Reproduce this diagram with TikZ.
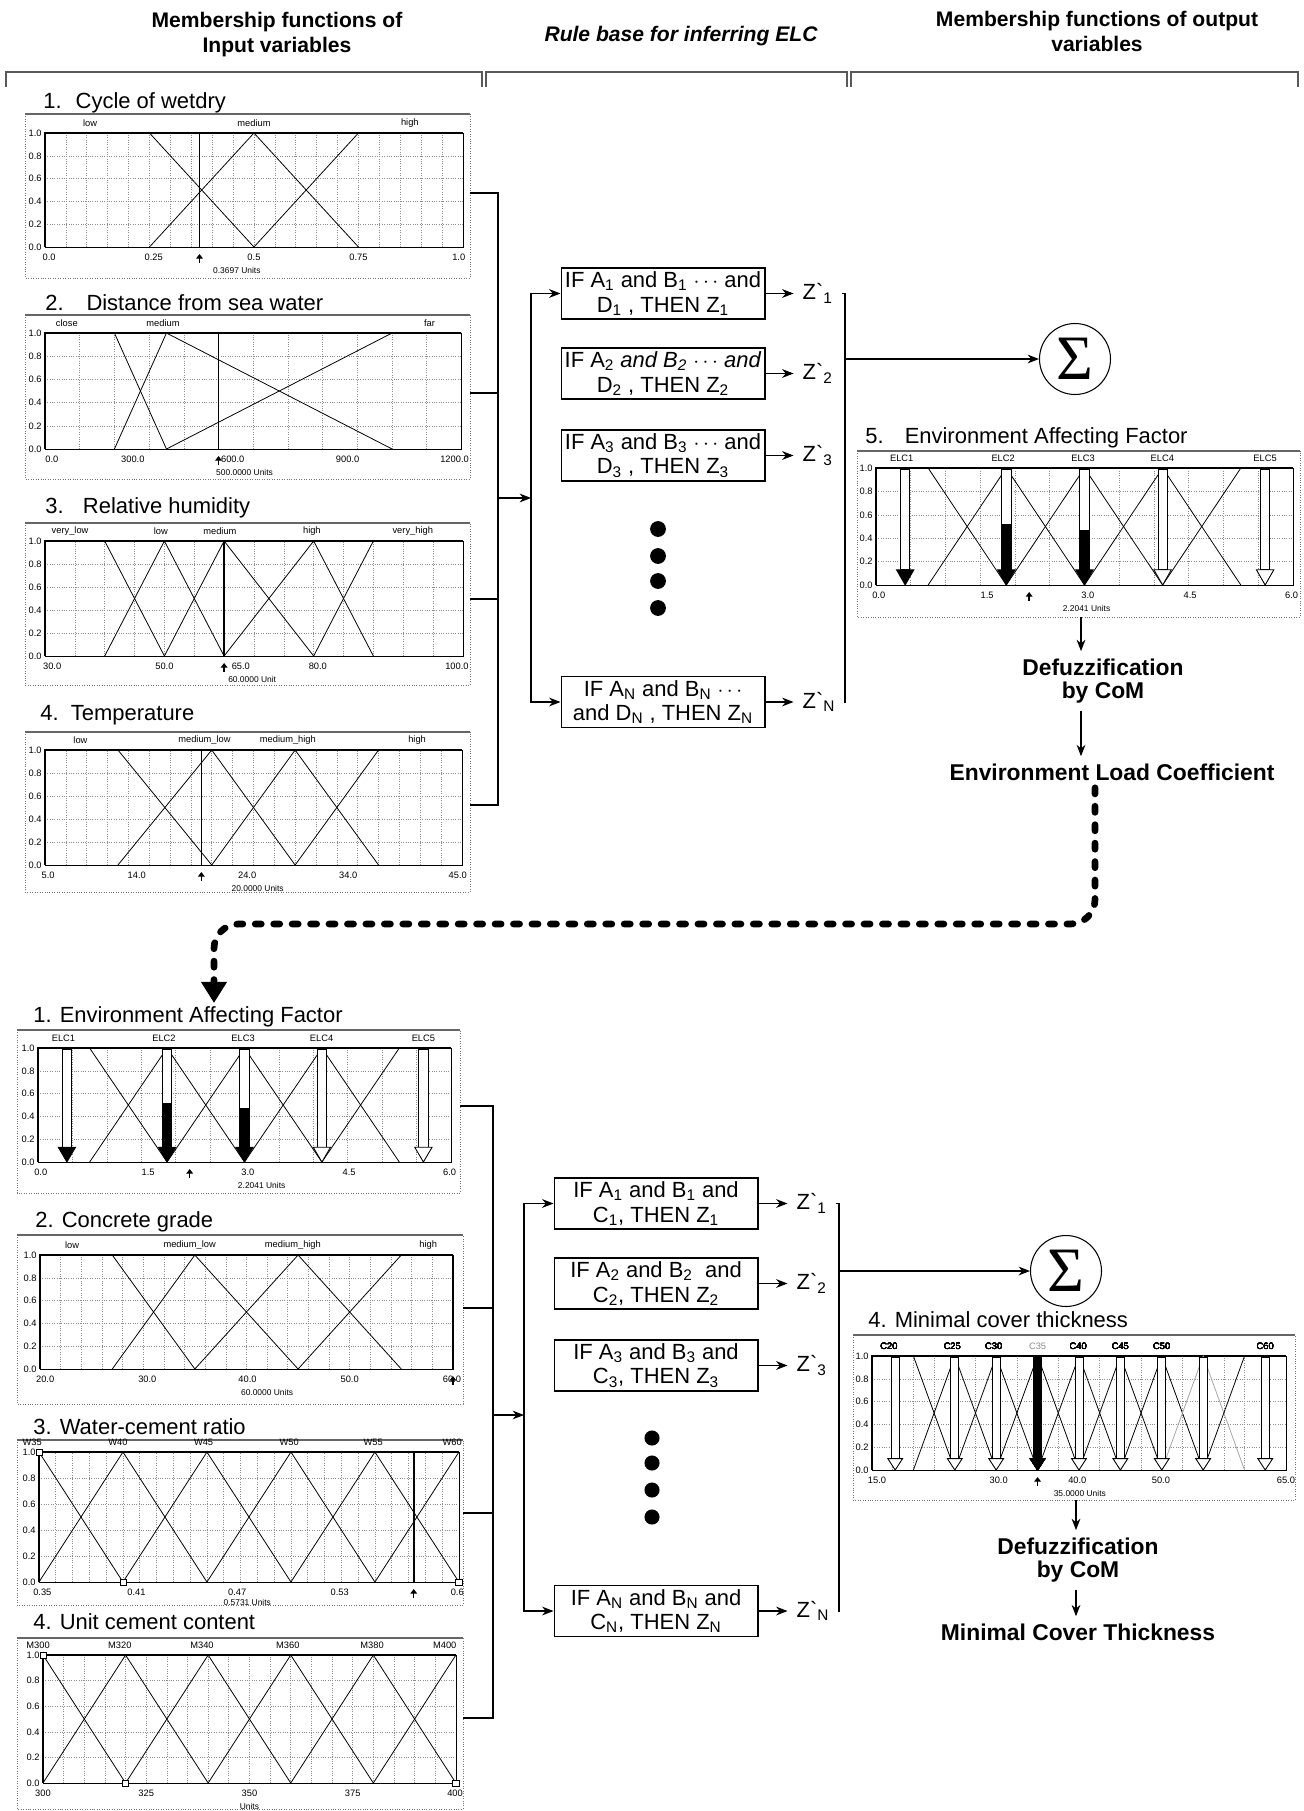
\documentclass[tikz,border=0pt]{standalone}
\usepackage{fontspec}
\setmainfont{Liberation Sans}
\newfontfamily\sigmafont{Liberation Serif}
\usetikzlibrary{arrows.meta,positioning}

\newcommand{\ix}[1]{\textsubscript{#1}}
\newcommand{\fhead}{\fontsize{12}{14.2}\selectfont\bfseries}
\newcommand{\ftitle}{\fontsize{12.5}{14}\selectfont}
\newcommand{\frule}{\fontsize{12.5}{14}\selectfont}
\newcommand{\fres}{\fontsize{13}{13.5}\selectfont\bfseries}
\newcommand{\ftick}{\fontsize{5.3}{5.5}\selectfont}
\newcommand{\funit}{\fontsize{4.8}{5}\selectfont}

% window of one membership chart
\newcommand{\chartframe}[4]{%
  \draw[framedot] (#1,#2) rectangle (#3,#4);
  \draw[frametop] (#1,#2) -- (#3,#2);}

% plot area in data units: xmin, xmax, grid divisions
\newcommand{\plotarea}[3]{%
  \foreach \i in {1,...,#3}
    \draw[gridline] ({#1+(#2-#1)*\i/#3},0) -- ({#1+(#2-#1)*\i/#3},1);
  \foreach \gy in {0.2,0.4,0.6,0.8}
    \draw[gridline] (#1,\gy) -- (#2,\gy);
  \draw[mf] (#1,0) rectangle (#2,1);
  \draw[axisline] (#1,0) -- (#1,1) -- (#2,1);
  \foreach \gy in {0.0,0.2,0.4,0.6,0.8,1.0}
    \node[ytick] at (#1,\gy) {\gy};}

% output arrow: position, fill level, head colour, half width (px), head height
\newcommand{\fatarrow}[5]{%
  \begin{scope}[shift={(#1,0)}, x=0.02cm]
    \draw[line width=0.5pt, fill=white] (-#4,#5) rectangle (#4,0.99);
    \fill (-#4,#5) rectangle (#4,#2);
    \draw[line width=0.5pt, fill=#3] ({-1.85*#4},#5) -- ({1.85*#4},#5) -- (0,0) -- cycle;
  \end{scope}}

% environment affecting factor functions (data units 0..6)
\newcommand{\elcfunctions}{%
  \draw[mf] (0,1) -- (0.75,1) -- (1.875,0);
  \foreach \p in {1.875,3,4.125}
    \draw[mf] (\p-1.125,0) -- (\p,1) -- (\p+1.125,0);
  \draw[mf] (4.125,0) -- (5.25,1) -- (6,1);
  \fatarrow{0.42}{0.13}{black}{4.7}{0.13}
  \fatarrow{1.875}{0.52}{black}{4.7}{0.13}
  \fatarrow{3}{0.47}{black}{4.7}{0.13}
  \fatarrow{4.125}{0.13}{white}{4.7}{0.13}
  \fatarrow{5.6}{0.13}{white}{4.7}{0.13}
  \foreach \lx/\lt in {0.37/ELC1,1.83/ELC2,2.98/ELC3,4.12/ELC4,5.6/ELC5}
    \node[mflabel] at (\lx,1) {\lt};
  \foreach \lx/\lt in {0.04/0.0,1.6/1.5,3.05/3.0,4.52/4.5,5.98/6.0}
    \node[xtick] at (\lx,0) {\lt};
  \draw[valmark] (2.2041,0) ++(0pt,-9pt) -- ++(0pt,5pt);}

\begin{document}
\begin{tikzpicture}[x=0.02cm, y=-0.02cm,
    headtext/.style={font=\fhead, align=center, inner sep=0pt},
    bracket/.style={line width=0.8pt, black!65},
    charttitle/.style={font=\ftitle, anchor=west, inner sep=0pt},
    framedot/.style={densely dotted, black!55, line width=0.4pt},
    frametop/.style={black!60, line width=0.9pt},
    gridline/.style={densely dotted, black!45, line width=0.35pt},
    mf/.style={line width=0.45pt},
    axisline/.style={line width=1.1pt},
    valline/.style={line width=0.9pt},
    valmark/.style={line width=0.8pt, -{Triangle[length=2.6pt,width=3.8pt]}},
    ytick/.style={font=\ftick, anchor=east, inner sep=0.5pt, xshift=-1.2pt},
    xtick/.style={font=\ftick, inner sep=0.5pt, yshift=-5.7pt},
    unitlabel/.style={font=\funit, inner sep=0.5pt, yshift=-13.6pt},
    mflabel/.style={font=\ftick, inner sep=0.5pt, yshift=5.5pt},
    mfhandle/.style={draw, fill=white, inner sep=0pt, minimum size=3.5pt, line width=0.4pt},
    conn/.style={line width=0.6pt},
    arrow/.style={line width=0.6pt, -{Stealth[length=6.5pt,width=5pt]}},
    rulebox/.style={draw, line width=0.6pt, font=\frule, align=center, minimum width=4.08cm, minimum height=1.02cm, inner sep=1pt},
    zlabel/.style={font=\frule, anchor=west, inner xsep=5pt, inner ysep=1pt},
    sumnode/.style={draw, circle, line width=0.6pt, minimum size=1.42cm, inner sep=0pt, font=\sigmafont\fontsize{36}{36}\selectfont},
    resulttext/.style={font=\fres, align=center, inner sep=4pt},
    dashconn/.style={line width=3.8pt, line cap=round, dash pattern=on 3.5pt off 7pt, rounded corners=14pt, -{Triangle[width=14pt,length=12pt]}}
]
\useasboundingbox (0,0) rectangle (1304,1811);

% column headings
\node[headtext] (hin) at (277,35) {Membership functions of\\Input variables};
\node[headtext, font=\fhead\itshape] (hrule) at (681,36) {Rule base for inferring ELC};
\node[headtext] (hout) at (1097,31) {Membership functions of output\\variables};
\draw[bracket] (6,87) |- (482,72) -- (482,87);
\draw[bracket] (486,87) |- (847,72) -- (847,87);
\draw[bracket] (851,87) |- (1298,72) -- (1298,87);

% ---------------- input variables (ELC) ----------------
% 1. cycle of wet-dry
\node[charttitle] (t1) at (43,103) {1.\hspace{8pt}Cycle of wetdry};
\chartframe{25}{114}{470}{278}
\begin{scope}[shift={(45,247)}, x=8.36cm, y=2.28cm]
  \plotarea{0}{1}{20}
  \draw[mf] (0,1) -- (0.25,1) -- (0.5,0);
  \draw[mf] (0.25,0) -- (0.5,1) -- (0.75,0);
  \draw[mf] (0.5,0) -- (0.75,1) -- (1,1);
  \draw[valline] (0.3697,0) -- (0.3697,1);
  \draw[valmark] (0.3697,0) ++(0pt,-9pt) -- ++(0pt,5pt);
  \foreach \lx/\lt in {0.108/low,0.5/medium,0.873/high}
    \node[mflabel] at (\lx,1) {\lt};
  \foreach \lx/\lt in {0.01/0.0,0.26/0.25,0.5/0.5,0.75/0.75,0.99/1.0}
    \node[xtick] at (\lx,0) {\lt};
  \node[unitlabel] at (0.459,0) {0.3697 Units};
\end{scope}

% 2. distance from sea water
\node[charttitle] (t2) at (45,303) {2.\hspace{13pt}Distance from sea water};
\chartframe{25}{315}{470}{479}
\begin{scope}[shift={(45,449)}, x=0.00695cm, y=2.32cm]
  \plotarea{0}{1200}{12}
  \draw[mf] (0,1) -- (200,1) -- (350,0);
  \draw[mf] (200,0) -- (350,1) -- (1000,0);
  \draw[mf] (350,0) -- (1000,1) -- (1200,1);
  \draw[valline] (500,0) -- (500,1);
  \draw[valmark] (500,0) ++(0pt,-9pt) -- ++(0pt,5pt);
  \foreach \lx/\lt in {63/close,340/medium,1108/far}
    \node[mflabel] at (\lx,1) {\lt};
  \foreach \lx/\lt in {20/0.0,253/300.0,541/600.0,872/900.0,1180/1200.0}
    \node[xtick] at (\lx,0) {\lt};
  \node[unitlabel] at (575,0) {500.0000 Units};
\end{scope}

% 3. relative humidity
\node[charttitle] (t3) at (45,508) {3.\hspace{11pt}Relative humidity};
\chartframe{25}{523}{470}{685}
\begin{scope}[shift={(45,656)}, x=0.11943cm, y=2.3cm, shift={(-30,0)}]
  \plotarea{30}{100}{14}
  \draw[mf] (30,1) -- (40,1) -- (50,0);
  \draw[mf] (40,0) -- (50,1) -- (60,0);
  \draw[mf] (50,0) -- (60,1) -- (75,0);
  \draw[mf] (60,0) -- (75,1) -- (85,0);
  \draw[mf] (75,0) -- (85,1) -- (100,1);
  \draw[valline] (60,0) -- (60,1);
  \draw[valmark] (60,0) ++(0pt,-9pt) -- ++(0pt,5pt);
  \foreach \lx/\lt in {34.2/very\_low,49.4/low,59.3/medium,74.7/high,91.6/very\_high}
    \node[mflabel] at (\lx,1) {\lt};
  \foreach \lx/\lt in {31.2/30.0,50/50.0,62.8/65.0,75.7/80.0,99/100.0}
    \node[xtick] at (\lx,0) {\lt};
  \node[unitlabel] at (64.7,0) {60.0000 Unit};
\end{scope}

% 4. temperature
\node[charttitle] (t4) at (40,715) {4.\hspace{7pt}Temperature};
\chartframe{25}{732}{470}{892}
\begin{scope}[shift={(45,865)}, x=0.2085cm, y=2.3cm, shift={(-5,0)}]
  \plotarea{5}{45}{20}
  \draw[mf] (5,1) -- (12,1) -- (21,0);
  \draw[mf] (12,0) -- (21,1) -- (29,0);
  \draw[mf] (21,0) -- (29,1) -- (37,0);
  \draw[mf] (29,0) -- (37,1) -- (45,1);
  \draw[valline] (20,0) -- (20,1);
  \draw[valmark] (20,0) ++(0pt,-9pt) -- ++(0pt,5pt);
  \foreach \lx/\lt in {8.4/low,20.3/medium\_low,28.3/medium\_high,40.7/high}
    \node[mflabel] at (\lx,1) {\lt};
  \foreach \lx/\lt in {5.3/5.0,13.8/14.0,24.4/24.0,34.1/34.0,44.6/45.0}
    \node[xtick] at (\lx,0) {\lt};
  \node[unitlabel] at (25.4,0) {20.0000 Units};
\end{scope}

% inputs to the rule base
\coordinate (in1) at (470,193);
\coordinate (in2) at (470,393);
\coordinate (in3) at (470,599);
\coordinate (in4) at (470,805);
\coordinate (bus) at (498,498);
\coordinate (rbus) at (531,498);
\draw[conn] (in1) -| (bus);
\draw[conn] (in4) -| (bus);
\draw[conn] (in2) -- (in2 -| bus);
\draw[conn] (in3) -- (in3 -| bus);
\draw[arrow] (bus) -- (rbus);

% rule base for inferring ELC
\node[rulebox] (r1) at (663,293.5) {IF A\ix{1} and B\ix{1} $\cdots$ and\\D\ix{1} , THEN Z\ix{1}};
\node[rulebox] (r2) at (663,373.5) {IF A\ix{2} \textit{and B\ix{2} $\cdots$ and}\\D\ix{2} , THEN Z\ix{2}};
\node[rulebox] (r3) at (663,455.5) {IF A\ix{3} and B\ix{3} $\cdots$ and\\D\ix{3} , THEN Z\ix{3}};
\node[rulebox] (rN) at (663,702) {IF A\ix{N} and B\ix{N} $\cdots$\\and D\ix{N} , THEN Z\ix{N}};
\foreach \dy in {529,556,581,608}
  \fill (658,\dy) circle (4.5pt);
\draw[arrow] (rbus) |- (r1.west);
\draw[arrow] (rbus) |- (rN.west);
\foreach \r in {1,2,3,N}{
  \node[zlabel, right=0.56cm of r\r] (z\r) {Z\textasciigrave\ix{\r}};
  \draw[arrow] (r\r.east) -- (z\r.west);
}
\coordinate (zbus) at (845,359);
\draw[conn] (z1.east) -| (zbus);
\draw[conn] (zN.east) -| (zbus);
\node[sumnode] (sum1) at (1075,359) {Σ};
\draw[arrow] (zbus) -- (sum1.west);

% 5. environment affecting factor (output)
\node[charttitle] (t5) at (865,438) {5.\hspace{12pt}Environment Affecting Factor};
\chartframe{857}{451}{1300}{617}
\begin{scope}[shift={(876,585)}, x=1.39cm, y=2.34cm]
  \plotarea{0}{6}{12}
  \elcfunctions
  \node[unitlabel] at (3.03,0) {2.2041 Units};
\end{scope}

\coordinate (out5) at (1081,617);
\node[resulttext] (defz1) at (1103,681) {Defuzzification\\by CoM};
\node[resulttext] (elc) at (1112,772) {Environment Load Coefficient};
\draw[arrow] (out5) -- (out5 |- defz1.north);
\draw[arrow] (defz1.south -| out5) -- (elc.north -| out5);

% ELC passed on to the cover thickness model
\coordinate (dbend) at (1095,924);
\coordinate (dend) at (214,1003);
\draw[dashconn] (elc.south -| dbend) -- (dbend) -- (dend |- dbend) -- (dend);

% ---------------- input variables (cover thickness) ----------------
% 1. environment affecting factor
\node[charttitle] (b1) at (33,1017) {1. Environment Affecting Factor};
\chartframe{17}{1030}{460}{1193}
\begin{scope}[shift={(38,1162)}, x=1.3767cm, y=2.28cm]
  \plotarea{0}{6}{12}
  \elcfunctions
  \node[unitlabel] at (3.25,0) {2.2041 Units};
\end{scope}

% 2. concrete grade
\node[charttitle] (b2) at (35,1222) {2. Concrete grade};
\chartframe{17}{1235}{463}{1404}
\begin{scope}[shift={(40,1369)}, x=0.2065cm, y=2.28cm, shift={(-20,0)}]
  \plotarea{20}{60}{20}
  \draw[mf] (20,1) -- (27,1) -- (35,0);
  \draw[mf] (27,0) -- (35,1) -- (45,0);
  \draw[mf] (35,0) -- (45,1) -- (55,0);
  \draw[mf] (45,0) -- (55,1) -- (60,1);
  \draw[valline] (60,0) -- (60,1);
  \foreach \lx/\lt in {23.1/low,34.5/medium\_low,44.5/medium\_high,57.6/high}
    \node[mflabel] at (\lx,1) {\lt};
  \foreach \lx/\lt in {20.5/20.0,30.4/30.0,40.1/40.0,50/50.0,59.9/60.0}
    \node[xtick] at (\lx,0) {\lt};
  \draw[valmark] (60,0) ++(0pt,-9pt) -- ++(0pt,5pt);
  \node[unitlabel] at (42,0) {60.0000 Units};
\end{scope}

% 3. water-cement ratio
\node[charttitle] (b3) at (33,1427) {3. Water-cement ratio};
\chartframe{17}{1440}{463}{1605}
\begin{scope}[shift={(39,1582)}, x=33.6cm, y=2.6cm, shift={(-0.35,0)}]
  \plotarea{0.35}{0.6}{25}
  \draw[mf] (0.35,1) -- (0.40,0);
  \foreach \p in {0.40,0.45,0.50,0.55}
    \draw[mf] (\p-0.05,0) -- (\p,1) -- (\p+0.05,0);
  \draw[mf] (0.55,0) -- (0.60,1);
  \draw[valline] (0.5731,0) -- (0.5731,1);
  \draw[valmark] (0.5731,0) ++(0pt,-9pt) -- ++(0pt,5pt);
  \foreach \hx/\hy in {0.35/1,0.40/0,0.60/0}
    \node[mfhandle] at (\hx,\hy) {};
  \foreach \lx/\lt in {0.346/W35,0.397/W40,0.448/W45,0.499/W50,0.549/W55,0.596/W60}
    \node[mflabel] at (\lx,1) {\lt};
  \foreach \lx/\lt in {0.352/0.35,0.408/0.41,0.468/0.47,0.529/0.53,0.599/0.6}
    \node[xtick] at (\lx,0) {\lt};
  \node[unitlabel, yshift=2pt] at (0.474,0) {0.5731 Units};
\end{scope}

% 4. unit cement content
\node[charttitle] (b4) at (33,1622) {4. Unit cement content};
\chartframe{17}{1638}{463}{1809}
\begin{scope}[shift={(43,1783)}, x=0.0826cm, y=2.56cm, shift={(-300,0)}]
  \plotarea{300}{400}{20}
  \draw[mf] (300,1) -- (320,0);
  \foreach \p in {320,340,360,380}
    \draw[mf] (\p-20,0) -- (\p,1) -- (\p+20,0);
  \draw[mf] (380,0) -- (400,1);
  \foreach \hx/\hy in {300/1,320/0,400/0}
    \node[mfhandle] at (\hx,\hy) {};
  \foreach \lx/\lt in {298.8/M300,318.6/M320,338.5/M340,359.3/M360,379.7/M380,397.3/M400}
    \node[mflabel] at (\lx,1) {\lt};
  \foreach \lx/\lt in {300/300,325/325,350/350,375/375,399.8/400}
    \node[xtick] at (\lx,0) {\lt};
  \node[unitlabel] at (350,0) {Units};
\end{scope}

% inputs to the rule base
\coordinate (inb1) at (460,1106);
\coordinate (inb2) at (463,1308);
\coordinate (inb3) at (463,1513);
\coordinate (inb4) at (463,1718);
\coordinate (busb) at (493,1415);
\coordinate (rbusb) at (524,1415);
\draw[conn] (inb1) -| (busb);
\draw[conn] (inb4) -| (busb);
\draw[conn] (inb2) -- (inb2 -| busb);
\draw[conn] (inb3) -- (inb3 -| busb);
\draw[arrow] (busb) -- (rbusb);

% rule base for cover thickness
\node[rulebox] (rb1) at (656,1203.5) {IF A\ix{1} and B\ix{1} and\\C\ix{1}, THEN Z\ix{1}};
\node[rulebox] (rb2) at (656,1283.5) {IF A\ix{2} and B\ix{2}\ \ and\\C\ix{2}, THEN Z\ix{2}};
\node[rulebox] (rb3) at (656,1365.5) {IF A\ix{3} and B\ix{3} and\\C\ix{3}, THEN Z\ix{3}};
\node[rulebox] (rbN) at (656,1611) {IF A\ix{N} and B\ix{N} and\\C\ix{N}, THEN Z\ix{N}};
\foreach \dy in {1438,1463,1490,1517}
  \fill (652,\dy) circle (4.3pt);
\draw[arrow] (rbusb) |- (rb1.west);
\draw[arrow] (rbusb) |- (rbN.west);
\foreach \r in {1,2,3,N}{
  \node[zlabel, right=0.58cm of rb\r] (zb\r) {Z\textasciigrave\ix{\r}};
  \draw[arrow] (rb\r.east) -- (zb\r.west);
}
\coordinate (zbusb) at (839,1271);
\draw[conn] (zb1.east) -| (zbusb);
\draw[conn] (zbN.east) -| (zbusb);
\node[sumnode] (sum2) at (1066,1271) {Σ};
\draw[arrow] (zbusb) -- (sum2.west);

% 4. minimal cover thickness (output)
\node[charttitle] (o4) at (868,1320) {4. Minimal cover thickness};
\chartframe{853}{1335}{1295}{1500}
\begin{scope}[shift={(872,1470)}, x=0.1656cm, y=2.28cm, shift={(-15,0)}]
  \plotarea{15}{65}{20}
  \draw[mf] (15,1) -- (20,1) -- (25,0);
  \foreach \p in {25,30,...,50}
    \draw[mf] (\p-5,0) -- (\p,1) -- (\p+5,0);
  \draw[mf, black!35] (50,0) -- (55,1) -- (60,0);
  \draw[mf] (55,0) -- (60,1) -- (65,1);
  \foreach \p in {17.8,25,30,40,45,50,55,62.5}
    \fatarrow{\p}{0.1}{white}{4}{0.1}
  \fatarrow{35}{1}{black}{4}{0.1}
  \foreach \lx/\lt in {17.05/C20,24.7/C25,29.7/C30,39.9/C40,45/C45,50/C50,62.5/C60}
    \node[mflabel] at (\lx,1) {\lt};
  \node[mflabel, black!45] at (35,1) {C35};
  \foreach \lx/\lt in {15.6/15.0,30.3/30.0,39.8/40.0,49.9/50.0,65/65.0}
    \node[xtick] at (\lx,0) {\lt};
  \draw[valmark] (35,0) ++(0pt,-9pt) -- ++(0pt,5pt);
  \node[unitlabel] at (40.1,0) {35.0000 Units};
\end{scope}

\coordinate (outO) at (1076,1500);
\node[resulttext] (defz2) at (1078,1560) {Defuzzification\\by CoM};
\node[resulttext] (mct) at (1078,1632) {Minimal Cover Thickness};
\draw[arrow] (outO) -- (outO |- defz2.north);
\draw[arrow] (defz2.south -| outO) -- (mct.north -| outO);

\end{tikzpicture}
\end{document}
